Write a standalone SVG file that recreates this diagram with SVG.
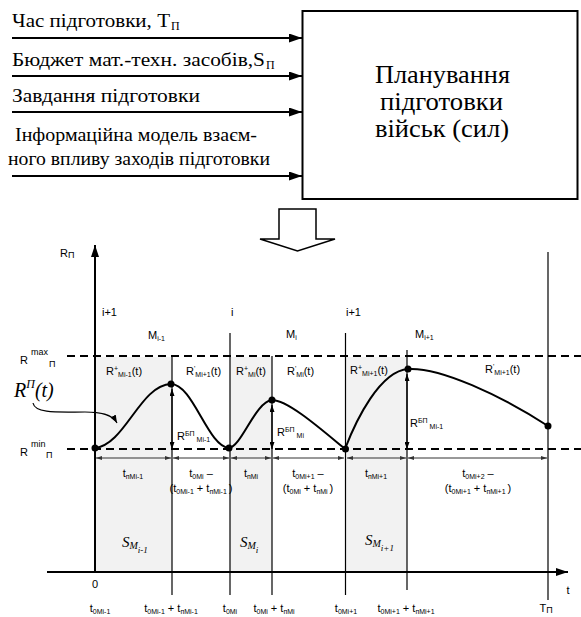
<svg xmlns="http://www.w3.org/2000/svg" width="581" height="617" viewBox="0 0 581 617">
<defs>
<style>
.ser{font-family:"Liberation Serif","Tinos","DejaVu Serif","Times New Roman",serif;fill:#000}
.big{font-size:18px}
.box{font-size:25px}
.a{font-family:"Liberation Sans",Arial,sans-serif;font-size:11px;fill:#000}
.s{font-size:7px}
.m{font-size:9px}
.ln{stroke:#000;fill:none}
.dash{stroke:#000;stroke-width:2;stroke-dasharray:8,5;fill:none}
.dim{stroke:#333;stroke-width:1;fill:none;marker-start:url(#ds);marker-end:url(#de)}
.gray{fill:#f2f2f2}
.it{font-style:italic}
</style>
<marker id="ah" viewBox="0 0 13 9" refX="13" refY="4.5" markerWidth="13" markerHeight="9" markerUnits="userSpaceOnUse" orient="auto"><path d="M0,0 L13,4.5 L0,9 z" fill="#000"/></marker>
<marker id="ax" viewBox="0 0 12 8" refX="12" refY="4" markerWidth="12" markerHeight="8" markerUnits="userSpaceOnUse" orient="auto"><path d="M0,0 L12,4 L0,8 z" fill="#000"/></marker>
<marker id="sm" viewBox="0 0 7 5" refX="7" refY="2.5" markerWidth="7" markerHeight="5" markerUnits="userSpaceOnUse" orient="auto"><path d="M0,0 L7,2.5 L0,5 z" fill="#000"/></marker>
<marker id="sms" viewBox="0 0 7 5" refX="0" refY="2.5" markerWidth="7" markerHeight="5" markerUnits="userSpaceOnUse" orient="auto"><path d="M7,0 L0,2.5 L7,5 z" fill="#000"/></marker>
<marker id="de" viewBox="0 0 6 4" refX="6" refY="2" markerWidth="6" markerHeight="4" markerUnits="userSpaceOnUse" orient="auto"><path d="M0,0 L6,2 L0,4 z" fill="#333"/></marker>
<marker id="ds" viewBox="0 0 6 4" refX="0" refY="2" markerWidth="6" markerHeight="4" markerUnits="userSpaceOnUse" orient="auto"><path d="M6,0 L0,2 L6,4 z" fill="#333"/></marker>
<marker id="ca" viewBox="0 0 8 6" refX="8" refY="3" markerWidth="8" markerHeight="6" markerUnits="userSpaceOnUse" orient="auto"><path d="M0,0 L8,3 L0,6 z" fill="#000"/></marker>
</defs>

<!-- Top block -->
<g id="inputs">
<text class="ser big" x="12" y="27" textLength="158" lengthAdjust="spacingAndGlyphs">Час підготовки, Т</text>
<text class="ser" x="171" y="30" font-size="12">П</text>
<text class="ser big" x="12" y="66" textLength="253" lengthAdjust="spacingAndGlyphs">Бюджет мат.-техн. засобів,S</text>
<text class="ser" x="266" y="69" font-size="12">П</text>
<text class="ser big" x="12" y="102" textLength="188" lengthAdjust="spacingAndGlyphs">Завдання підготовки</text>
<text class="ser big" x="15" y="141" textLength="242" lengthAdjust="spacingAndGlyphs">Інформаційна модель взаєм-</text>
<text class="ser big" x="8" y="165" textLength="262" lengthAdjust="spacingAndGlyphs">ного впливу заходів підготовки</text>
</g>
<g id="input-arrows">
<line class="ln" x1="12" y1="38" x2="302" y2="38" stroke-width="2" marker-end="url(#ah)"/>
<line class="ln" x1="12" y1="76" x2="302" y2="76" stroke-width="2" marker-end="url(#ah)"/>
<line class="ln" x1="12" y1="112" x2="302" y2="112" stroke-width="2" marker-end="url(#ah)"/>
<line class="ln" x1="12" y1="176" x2="302" y2="176" stroke-width="2" marker-end="url(#ah)"/>
</g>
<g id="planning">
<rect x="302.5" y="11" width="275" height="188" fill="#fff" stroke="#000" stroke-width="2"/>
<text class="ser box" x="375" y="83" textLength="135" lengthAdjust="spacingAndGlyphs">Планування</text>
<text class="ser box" x="380" y="110" textLength="123" lengthAdjust="spacingAndGlyphs">підготовки</text>
<text class="ser box" x="375" y="137" textLength="134" lengthAdjust="spacingAndGlyphs">військ (сил)</text>
</g>
<g id="down-arrow">
<polygon points="279,209 316,209 316,239 335,239 297.5,251 260,239 279,239" fill="#fff" stroke="#000" stroke-width="1.5"/>
</g>

<!-- Chart -->
<g id="shading">
<rect class="gray" x="95" y="357" width="77" height="215"/>
<rect class="gray" x="230" y="357" width="42" height="215"/>
<rect class="gray" x="345" y="357" width="62" height="215"/>
</g>

<g id="axes">
<line class="ln" x1="95" y1="572" x2="95" y2="245" stroke-width="2" marker-end="url(#ax)"/>
<line class="ln" x1="47" y1="572" x2="568" y2="572" stroke-width="2" marker-end="url(#ax)"/>
<text class="a" x="60" y="257" font-size="13">R<tspan class="m" dy="1">П</tspan></text>
<text class="a" x="95" y="588" text-anchor="middle">0</text>
<text class="a" x="568" y="594" font-size="12" text-anchor="middle">t</text>
</g>

<g id="levels">
<line class="dash" x1="67" y1="356" x2="581" y2="356"/>
<line class="dash" x1="67" y1="449" x2="581" y2="449"/>
<text class="a" x="20" y="364" font-size="14">R</text>
<text class="a m" x="31" y="355">max</text>
<text class="a m" x="49" y="367">П</text>
<text class="a" x="20" y="456" font-size="14">R</text>
<text class="a m" x="31" y="447">min</text>
<text class="a m" x="46" y="458">П</text>
</g>

<g id="verticals">
<line class="ln" x1="172" y1="356" x2="172" y2="595" stroke-width="1.2"/>
<line class="ln" x1="230" y1="333" x2="230" y2="595" stroke-width="1.2"/>
<line class="ln" x1="272" y1="356" x2="272" y2="595" stroke-width="1.2"/>
<line class="ln" x1="345.5" y1="333" x2="345.5" y2="595" stroke-width="1.2"/>
<line class="ln" x1="407" y1="350" x2="407" y2="590" stroke-width="1.2"/>
<line class="ln" x1="548" y1="252" x2="548" y2="600" stroke-width="1.2"/>
</g>

<g id="top-labels">
<text class="a" x="102" y="316" font-size="10">i+1</text>
<text class="a" x="231" y="316" font-size="10">i</text>
<text class="a" x="346" y="316" font-size="10">i+1</text>
<text class="a" x="148" y="339">M<tspan class="s" dy="2">i-1</tspan></text>
<text class="a" x="286" y="338">M<tspan class="s" dy="2">i</tspan></text>
<text class="a" x="415" y="338">M<tspan class="s" dy="2">i+1</tspan></text>
</g>

<g id="region-labels">
<text class="a" x="106" y="375">R<tspan class="s" dy="-4">+</tspan><tspan class="s" dy="6">Mi-1</tspan><tspan dy="-2">(t)</tspan></text>
<text class="a" x="186" y="375">R<tspan class="s" dy="-4">'</tspan><tspan class="s" dy="6">Mi+1</tspan><tspan dy="-2">(t)</tspan></text>
<text class="a" x="236" y="375">R<tspan class="s" dy="-4">+</tspan><tspan class="s" dy="6">Mi</tspan><tspan dy="-2">(t)</tspan></text>
<text class="a" x="287" y="375">R<tspan class="s" dy="-4">'</tspan><tspan class="s" dy="6">Mi</tspan><tspan dy="-2">(t)</tspan></text>
<text class="a" x="350" y="374">R<tspan class="s" dy="-4">+</tspan><tspan class="s" dy="6">Mi+1</tspan><tspan dy="-2">(t)</tspan></text>
<text class="a" x="485" y="373">R<tspan class="s" dy="-4">'</tspan><tspan class="s" dy="6">Mi+1</tspan><tspan dy="-2">(t)</tspan></text>
</g>

<g id="curve">
<path class="ln" stroke-width="2" d="M95,448 C125,445 140,385 171,384 C193,384 208,447 229,448 C242,446 255,402 272,400 C288,400 322,430 345,449 C356,420 380,371 408,369 C440,367 500,395 548,426"/>
<circle cx="95" cy="448" r="3.5"/>
<circle cx="171" cy="384" r="3.5"/>
<circle cx="229" cy="448" r="3.5"/>
<circle cx="272" cy="400" r="3.5"/>
<circle cx="345.5" cy="449" r="3.5"/>
<circle cx="408" cy="369" r="3.5"/>
<circle cx="548" cy="426" r="3.5"/>
</g>

<g id="rbp">
<line class="ln" x1="172" y1="389" x2="172" y2="449" stroke-width="1.2" marker-start="url(#sms)" marker-end="url(#sm)"/>
<line class="ln" x1="272" y1="405" x2="272" y2="449" stroke-width="1.2" marker-start="url(#sms)" marker-end="url(#sm)"/>
<line class="ln" x1="407" y1="374" x2="407" y2="449" stroke-width="1.2" marker-start="url(#sms)" marker-end="url(#sm)"/>
<text class="a" x="177" y="440">R<tspan class="s" dy="-4">БП</tspan><tspan class="s" dx="2" dy="6">Mi-1</tspan></text>
<text class="a" x="277" y="436">R<tspan class="s" dy="-4">БП</tspan><tspan class="s" dx="2" dy="6">Mi</tspan></text>
<text class="a" x="410" y="427">R<tspan class="s" dy="-4">БП</tspan><tspan class="s" dx="2" dy="6">Mi-1</tspan></text>
</g>

<g id="pointer">
<text class="ser it" x="14" y="397" font-size="20">R<tspan font-size="12" dy="-9">П</tspan><tspan dy="9">(t)</tspan></text>
<path class="ln" stroke-width="1.2" d="M33,403 C35,414 60,412 85,412 C100,412 112,414 117,423" marker-end="url(#ca)"/>
</g>

<g id="dimensions">
<line class="dim" x1="96" y1="458" x2="171" y2="458"/>
<line class="dim" x1="173" y1="458" x2="229" y2="458"/>
<line class="dim" x1="231" y1="458" x2="271" y2="458"/>
<line class="dim" x1="273" y1="458" x2="344" y2="458"/>
<line class="dim" x1="347" y1="458" x2="406" y2="458"/>
<line class="dim" x1="408" y1="458" x2="547" y2="458"/>
</g>

<g id="interval-labels">
<text class="a" x="133" y="477" text-anchor="middle">t<tspan class="s" dy="2">пMi-1</tspan></text>
<text class="a" x="201" y="477" text-anchor="middle">t<tspan class="s" dy="2">0Mi</tspan><tspan dy="-2"> –</tspan></text>
<text class="a" x="201" y="492" text-anchor="middle">(t<tspan class="s" dy="2">0Mi-1</tspan><tspan dy="-2"> + t</tspan><tspan class="s" dy="2">пMi-1 </tspan><tspan dy="-2">)</tspan></text>
<text class="a" x="251" y="477" text-anchor="middle">t<tspan class="s" dy="2">пMi</tspan></text>
<text class="a" x="308" y="477" text-anchor="middle">t<tspan class="s" dy="2">0Mi+1</tspan><tspan dy="-2"> –</tspan></text>
<text class="a" x="308" y="492" text-anchor="middle">(t<tspan class="s" dy="2">0Mi</tspan><tspan dy="-2"> + t</tspan><tspan class="s" dy="2">пMi </tspan><tspan dy="-2">)</tspan></text>
<text class="a" x="376" y="477" text-anchor="middle">t<tspan class="s" dy="2">пMi+1</tspan></text>
<text class="a" x="478" y="477" text-anchor="middle">t<tspan class="s" dy="2">0Mi+2</tspan><tspan dy="-2"> –</tspan></text>
<text class="a" x="478" y="492" text-anchor="middle">(t<tspan class="s" dy="2">0Mi+1</tspan><tspan dy="-2"> + t</tspan><tspan class="s" dy="2">пMi+1 </tspan><tspan dy="-2">)</tspan></text>
</g>

<g id="s-labels">
<text class="ser it" x="122" y="547" font-size="15">S<tspan font-size="10" dy="2">M</tspan><tspan font-size="9" dy="4">i-1</tspan></text>
<text class="ser it" x="240" y="547" font-size="15">S<tspan font-size="10" dy="2">M</tspan><tspan font-size="9" dy="4">i</tspan></text>
<text class="ser it" x="365" y="545" font-size="15">S<tspan font-size="10" dy="2">M</tspan><tspan font-size="9" dy="4">i+1</tspan></text>
</g>

<g id="time-labels">
<text class="a" x="100" y="612" text-anchor="middle">t<tspan class="s" dy="2">0Mi-1</tspan></text>
<text class="a" x="171" y="612" text-anchor="middle">t<tspan class="s" dy="2">0Mi-1</tspan><tspan dy="-2"> + t</tspan><tspan class="s" dy="2">пMi-1</tspan></text>
<text class="a" x="230" y="612" text-anchor="middle">t<tspan class="s" dy="2">0Mi</tspan></text>
<text class="a" x="274" y="612" text-anchor="middle">t<tspan class="s" dy="2">0Mi</tspan><tspan dy="-2"> + t</tspan><tspan class="s" dy="2">пMi</tspan></text>
<text class="a" x="346" y="612" text-anchor="middle">t<tspan class="s" dy="2">0Mi+1</tspan></text>
<text class="a" x="406" y="612" text-anchor="middle">t<tspan class="s" dy="2">0Mi+1</tspan><tspan dy="-2"> + t</tspan><tspan class="s" dy="2">пMi+1</tspan></text>
<text class="a" x="546" y="612" text-anchor="middle">T<tspan class="m" dy="1">П</tspan></text>
</g>
</svg>
